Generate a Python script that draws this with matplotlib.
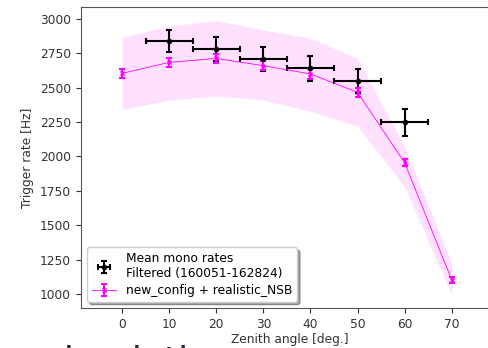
import matplotlib
matplotlib.use("Agg")
import matplotlib.pyplot as plt

# measured mono rates (black)
zen_data = [10, 20, 30, 40, 50, 60]
rate_data = [2840, 2781, 2708, 2641, 2548, 2247]
rate_data_err = [80, 87, 90, 93, 87, 97]
zen_data_err = [5, 5, 5, 5, 5, 5]

# simulation new_config + realistic_NSB (magenta)
zen_sim = [0, 10, 20, 30, 40, 50, 60, 70]
rate_sim = [2604, 2684, 2713, 2660, 2600, 2466, 1955, 1102]
rate_sim_err = [35, 35, 35, 35, 35, 33, 28, 20]
band_hi = [2866, 2949, 2988, 2920, 2859, 2713, 2070, 1226]
band_lo = [2342, 2410, 2439, 2410, 2329, 2220, 1780, 993]

fig = plt.figure(figsize=(4.89, 3.48), dpi=100)
ax = fig.add_axes([0.165, 0.115, 0.855, 0.865])

ax.fill_between(zen_sim, band_lo, band_hi, color='magenta', alpha=0.12, lw=0)
ax.errorbar(zen_data, rate_data, xerr=zen_data_err, yerr=rate_data_err, fmt='o',
            color='black', ms=3, capsize=2.5, elinewidth=1.5, capthick=1.5,
            label='Mean mono rates\nFiltered (160051-162824)')
ax.errorbar(zen_sim, rate_sim, yerr=rate_sim_err, fmt='x-', color='magenta',
            lw=0.6, ms=3, capsize=2, elinewidth=1.5, capthick=1.5,
            label='new_config + realistic_NSB')

ax.set_xlim(-8.8, 80)
ax.set_ylim(898, 3087)
ax.set_xticks([0, 10, 20, 30, 40, 50, 60, 70])
ax.set_yticks([1000, 1250, 1500, 1750, 2000, 2250, 2500, 2750, 3000])
ax.tick_params(labelsize=8.8, colors='#333333', labelcolor='#333333')
for s in ax.spines.values():
    s.set_color('#555555')
ax.spines['right'].set_visible(False)
ax.set_xlabel('Zenith angle [deg.]', fontsize=8.8, color='#333333', labelpad=2)
ax.set_ylabel('Trigger rate [Hz]', fontsize=8.8, color='#333333')
ax.legend(loc='lower left', fontsize=8.8, shadow=True, borderpad=0.4,
          handlelength=2, labelspacing=0.3)

# slide title peeking in at the bottom
fig.text(45 / 489, 1 - 344 / 348, 'simulation', fontsize=26, va='top',
         color='#222233')

fig.savefig('out.png', dpi=100)
